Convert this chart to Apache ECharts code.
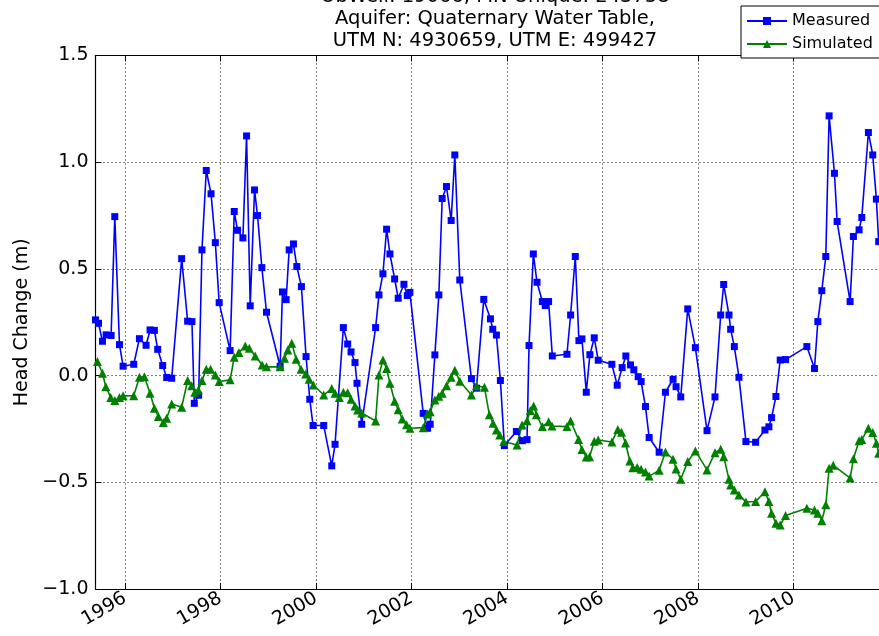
<!DOCTYPE html>
<html><head><meta charset="utf-8">
<script src="https://cdn.jsdelivr.net/npm/echarts@6/dist/echarts.min.js"></script>
<style>html,body{margin:0;padding:0;background:#fff}#c{width:879px;height:636px}</style>
</head><body><div id="c"></div>
<script>
const titleLines = ['ObWell: 19066, MN Unique: 243758', 'Aquifer: Quaternary Water Table,', 'UTM N: 4930659, UTM E: 499427'];
const yAxisName = 'Head Change (m)';
const seriesNames = ['Measured', 'Simulated'];
const xTickYears = [1996, 1998, 2000, 2002, 2004, 2006, 2008, 2010];
const yTickValues = [-1.0, -0.5, 0.0, 0.5, 1.0, 1.5];

const measuredDates = [1995.38,1995.443,1995.526,1995.603,1995.707,1995.784,1995.882,1995.958,1996.181,1996.30,1996.439,1996.523,1996.613,1996.683,1996.787,1996.871,1996.976,1997.185,1997.31,1997.40,1997.449,1997.54,1997.61,1997.70,1997.80,1997.89,1997.97,1998.20,1998.286,1998.355,1998.467,1998.544,1998.62,1998.711,1998.774,1998.864,1998.962,1999.247,1999.296,1999.373,1999.436,1999.526,1999.596,1999.693,1999.79,1999.868,1999.937,2000.16,2000.328,2000.397,2000.571,2000.662,2000.732,2000.815,2000.857,2000.955,2001.247,2001.317,2001.40,2001.477,2001.547,2001.645,2001.72,2001.84,2001.91,2001.965,2002.244,2002.334,2002.39,2002.488,2002.571,2002.641,2002.732,2002.829,2002.906,2003.01,2003.254,2003.359,2003.512,2003.652,2003.70,2003.777,2003.86,2003.944,2004.195,2004.32,2004.418,2004.46,2004.55,2004.627,2004.739,2004.80,2004.87,2004.948,2005.254,2005.331,2005.429,2005.505,2005.568,2005.659,2005.735,2005.826,2005.909,2006.195,2006.307,2006.411,2006.488,2006.585,2006.655,2006.746,2006.808,2006.899,2006.976,2007.185,2007.317,2007.477,2007.54,2007.638,2007.784,2007.944,2008.188,2008.355,2008.474,2008.537,2008.648,2008.683,2008.76,2008.857,2009.003,2009.206,2009.401,2009.484,2009.54,2009.631,2009.721,2009.833,2010.279,2010.439,2010.509,2010.592,2010.676,2010.745,2010.857,2010.913,2011.185,2011.254,2011.373,2011.429,2011.568,2011.659,2011.735,2011.784];
const measuredValues = [0.261,0.245,0.161,0.191,0.188,0.745,0.145,0.044,0.053,0.173,0.142,0.214,0.212,0.123,0.047,-0.009,-0.0125,0.548,0.255,0.253,-0.13,-0.092,0.589,0.961,0.852,0.623,0.342,0.117,0.769,0.681,0.645,1.123,0.327,0.870,0.75,0.506,0.297,0.044,0.392,0.356,0.589,0.617,0.511,0.417,0.089,-0.111,-0.234,-0.234,-0.423,-0.322,0.225,0.148,0.111,0.061,-0.036,-0.228,0.225,0.378,0.477,0.686,0.570,0.453,0.3625,0.428,0.375,0.39,-0.177,-0.247,-0.228,0.097,0.378,0.830,0.886,0.727,1.034,0.448,-0.014,-0.059,0.357,0.266,0.217,0.19,-0.023,-0.328,-0.262,-0.305,-0.30,0.141,0.570,0.4375,0.347,0.328,0.347,0.092,0.10,0.284,0.558,0.164,0.172,-0.078,0.098,0.177,0.072,0.053,-0.045,0.0375,0.092,0.05,0.027,-0.005,-0.028,-0.145,-0.29,-0.359,-0.078,-0.017,-0.052,-0.10,0.3125,0.131,-0.258,-0.10,0.284,0.427,0.284,0.217,0.136,-0.008,-0.309,-0.3125,-0.255,-0.24,-0.197,-0.098,0.073,0.075,0.136,0.033,0.253,0.398,0.558,1.217,0.948,0.722,0.347,0.652,0.683,0.741,1.139,1.034,0.827,0.628];

const simulatedDates = [1995.42,1995.526,1995.596,1995.70,1995.784,1995.882,1995.958,1996.18,1996.30,1996.404,1996.523,1996.613,1996.697,1996.80,1996.87,1996.976,1997.185,1997.31,1997.394,1997.46,1997.533,1997.61,1997.70,1997.79,1997.889,1997.97,1998.20,1998.286,1998.383,1998.516,1998.60,1998.725,1998.871,1998.962,1999.247,1999.338,1999.408,1999.491,1999.582,1999.686,1999.784,1999.854,1999.944,2000.16,2000.328,2000.397,2000.488,2000.571,2000.662,2000.732,2000.815,2000.871,2000.955,2001.247,2001.317,2001.40,2001.477,2001.547,2001.645,2001.72,2001.805,2001.895,2001.965,2002.244,2002.334,2002.39,2002.488,2002.571,2002.641,2002.732,2002.829,2002.906,2003.01,2003.254,2003.359,2003.526,2003.63,2003.707,2003.777,2003.847,2003.93,2004.209,2004.314,2004.418,2004.488,2004.557,2004.613,2004.739,2004.871,2004.941,2005.254,2005.331,2005.498,2005.568,2005.659,2005.728,2005.826,2005.909,2006.195,2006.32,2006.397,2006.481,2006.571,2006.634,2006.725,2006.808,2006.899,2006.976,2007.185,2007.317,2007.477,2007.54,2007.638,2007.784,2007.944,2008.188,2008.355,2008.474,2008.537,2008.648,2008.683,2008.76,2008.857,2009.003,2009.206,2009.401,2009.484,2009.54,2009.631,2009.721,2009.833,2010.279,2010.439,2010.509,2010.592,2010.676,2010.745,2010.83,2011.185,2011.254,2011.373,2011.429,2011.568,2011.659,2011.735,2011.784];
const simulatedValues = [0.066,0.011,-0.052,-0.103,-0.117,-0.103,-0.095,-0.094,-0.008,-0.005,-0.083,-0.153,-0.192,-0.22,-0.20,-0.133,-0.148,-0.023,-0.047,-0.078,-0.067,-0.023,0.03,0.03,0.003,-0.028,-0.02,0.086,0.108,0.139,0.128,0.092,0.05,0.041,0.041,0.081,0.12,0.152,0.077,0.03,0.008,-0.017,-0.044,-0.091,-0.061,-0.083,-0.103,-0.078,-0.08,-0.111,-0.142,-0.161,-0.175,-0.2125,0.003,0.073,0.033,-0.036,-0.12,-0.16,-0.203,-0.23,-0.247,-0.244,-0.18,-0.169,-0.114,-0.097,-0.083,-0.047,-0.008,0.025,-0.026,-0.091,-0.048,-0.055,-0.184,-0.223,-0.255,-0.278,-0.309,-0.325,-0.231,-0.211,-0.164,-0.142,-0.184,-0.239,-0.216,-0.236,-0.239,-0.213,-0.30,-0.346,-0.382,-0.38,-0.308,-0.302,-0.311,-0.252,-0.266,-0.316,-0.40,-0.432,-0.431,-0.439,-0.452,-0.471,-0.444,-0.358,-0.392,-0.4375,-0.486,-0.403,-0.353,-0.442,-0.361,-0.345,-0.38,-0.486,-0.5125,-0.536,-0.559,-0.592,-0.59,-0.544,-0.59,-0.645,-0.692,-0.70,-0.656,-0.622,-0.63,-0.645,-0.68,-0.605,-0.434,-0.42,-0.48,-0.39,-0.305,-0.30,-0.247,-0.267,-0.317,-0.364];

const XMIN = 1995.38, XMAX = 2011.79;
const FONT = 'DejaVu Sans';
const fmtY = v => v.toFixed(1).replace('-', '\u2212');

const chart = echarts.init(document.getElementById('c'), null, {renderer: 'canvas'});
const gridLine = {show: true, lineStyle: {color: '#000', width: 1, type: [1, 3]}};
chart.setOption({
  animation: false,
  backgroundColor: '#fff',
  title: {
    text: titleLines.join('\n'),
    left: 490, top: -19, textAlign: 'center',
    textStyle: {fontFamily: FONT, fontSize: 19.5, fontWeight: 'normal', color: '#000', lineHeight: 22}
  },
  legend: {
    data: seriesNames,
    orient: 'vertical', left: 741, top: 6,
    padding: [7, 8, 6, 5], itemGap: 7, itemWidth: 40, itemHeight: 10,
    backgroundColor: '#fff', borderColor: '#000', borderWidth: 1,
    textStyle: {fontFamily: FONT, fontSize: 16, color: '#000'}
  },
  grid: {left: 95.5, right: 0, top: 55.5, bottom: 47, containLabel: false},
  xAxis: [{
    type: 'value', min: XMIN, max: XMAX, position: 'bottom',
    axisLine: {show: true, onZero: false, lineStyle: {color: '#000', width: 1.2}},
    axisTick: {show: true, inside: true, length: 6, customValues: xTickYears, lineStyle: {color: '#000'}},
    axisLabel: {show: true, customValues: xTickYears, rotate: 30, margin: 8, formatter: v => String(Math.round(v)),
      fontFamily: FONT, fontSize: 19, color: '#000'},
    splitLine: gridLine
  }, {
    type: 'value', min: XMIN, max: XMAX, position: 'top',
    axisLine: {show: true, onZero: false, lineStyle: {color: '#000', width: 1.2}},
    axisTick: {show: true, inside: true, length: 6, customValues: xTickYears, lineStyle: {color: '#000'}},
    axisLabel: {show: false},
    splitLine: {show: false}
  }],
  yAxis: {
    type: 'value', min: -1.0, max: 1.5, interval: 0.5,
    name: yAxisName, nameLocation: 'middle', nameGap: 55,
    nameTextStyle: {fontFamily: FONT, fontSize: 19, color: '#000'},
    axisLine: {show: true, onZero: false, lineStyle: {color: '#000', width: 1.2}},
    axisTick: {show: true, inside: true, length: 6, lineStyle: {color: '#000'}},
    axisLabel: {formatter: fmtY, margin: 7, fontFamily: FONT, fontSize: 19, color: '#000'},
    splitLine: gridLine
  },
  series: [{
    name: seriesNames[0], type: 'line', xAxisIndex: 0,
    data: measuredDates.map((d, i) => [d, measuredValues[i]]),
    symbol: 'rect', symbolSize: 7, showAllSymbol: true, clip: true,
    lineStyle: {color: '#0000ff', width: 1.6},
    itemStyle: {color: '#0000ff', borderColor: '#0000ff', borderWidth: 0}
  }, {
    name: seriesNames[1], type: 'line', xAxisIndex: 0,
    data: simulatedDates.map((d, i) => [d, simulatedValues[i]]),
    symbol: 'triangle', symbolSize: 9, showAllSymbol: true, clip: true,
    lineStyle: {color: '#008000', width: 1.6},
    itemStyle: {color: '#008000', borderColor: '#008000', borderWidth: 0}
  }]
});
</script></body></html>
